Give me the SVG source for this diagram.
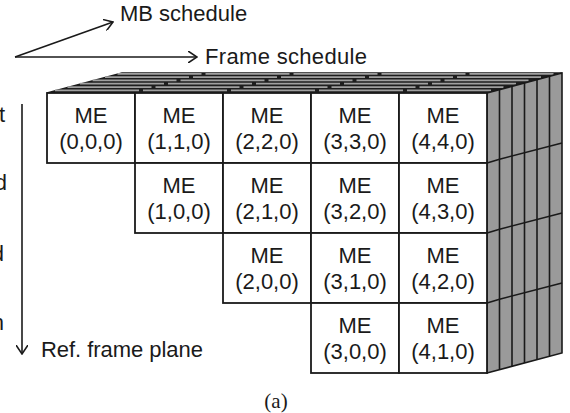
<svg xmlns="http://www.w3.org/2000/svg" width="570" height="413" viewBox="0 0 570 413">
<style>
.lbl{font-family:"Liberation Sans",Arial,sans-serif;font-size:22px;fill:#1a1a1a}
.cell rect{fill:#fff;stroke:#1a1a1a;stroke-width:1.8}
.cell text{font-family:"Liberation Sans",Arial,sans-serif;font-size:22px;fill:#1a1a1a;text-anchor:middle}
.ax{stroke:#1a1a1a;stroke-width:1.6;fill:none}
.vl{stroke:#1a1a1a;stroke-width:1.6}
.st{stroke:#a0a0a0;stroke-width:1.8;stroke-dasharray:84 4}
</style>
<defs>
<marker id="chev" viewBox="0 0 10 12" refX="9" refY="6" markerWidth="10" markerHeight="12" markerUnits="userSpaceOnUse" orient="auto">
<path d="M0,0 L9,6 L0,12" fill="none" stroke="#1a1a1a" stroke-width="1.6"/>
</marker>
</defs>
<rect width="570" height="413" fill="#fff"/>
<g class="lbl" text-anchor="end">
<text x="5" y="122">t</text>
<text x="7" y="190">d</text>
<text x="4" y="261">d</text>
<text x="4" y="330">n</text>
</g>
<g id="connectors">
<line class="ax" x1="15" y1="57" x2="113" y2="22" marker-end="url(#chev)"/>
<line class="ax" x1="15" y1="57" x2="197" y2="57" marker-end="url(#chev)"/>
<line class="ax" x1="22" y1="104" x2="22" y2="354" marker-end="url(#chev)"/>
</g>
<text class="lbl" x="120" y="21">MB schedule</text>
<text class="lbl" x="205" y="64" textLength="162">Frame schedule</text>
<text class="lbl" x="41" y="357" textLength="162">Ref. frame plane</text>
<g id="top-face">
<polygon points="47,93 487,93 562,73 122,73" fill="#1e1e1e" stroke="#1a1a1a" stroke-width="1.4"/>
<line class="st" x1="55" y1="90.4" x2="493" y2="90.4"/>
<line class="st" x1="67.5" y1="87.1" x2="505.5" y2="87.1"/>
<line class="st" x1="80" y1="83.7" x2="518" y2="83.7"/>
<line class="st" x1="92.5" y1="80.4" x2="530.5" y2="80.4"/>
<line class="st" x1="105" y1="77.1" x2="543" y2="77.1"/>
<line class="st" x1="117.5" y1="73.9" x2="555.5" y2="73.9"/>
</g>
<g id="right-face">
<polygon points="487,93 562,73 562,353 487,373" fill="#9a9a9a" stroke="#1a1a1a" stroke-width="1.6"/>
<line class="vl" x1="499.5" y1="89.7" x2="499.5" y2="369.7"/>
<line class="vl" x1="512" y1="86.3" x2="512" y2="366.3"/>
<line class="vl" x1="524.5" y1="83" x2="524.5" y2="363"/>
<line class="vl" x1="537" y1="79.7" x2="537" y2="359.7"/>
<line class="vl" x1="549.5" y1="76.3" x2="549.5" y2="356.3"/>
<polyline class="ax" points="487,163 499.5,159.2 562,143"/>
<polyline class="ax" points="487,233 499.5,229.2 562,213"/>
<polyline class="ax" points="487,303 499.5,299.2 562,283"/>
</g>
<g id="me-000" class="cell"><rect x="47" y="93" width="88" height="70"/><text x="91" y="123">ME</text><text x="91" y="149">(0,0,0)</text></g>
<g id="me-110" class="cell"><rect x="135" y="93" width="88" height="70"/><text x="179" y="123">ME</text><text x="179" y="149">(1,1,0)</text></g>
<g id="me-220" class="cell"><rect x="223" y="93" width="88" height="70"/><text x="267" y="123">ME</text><text x="267" y="149">(2,2,0)</text></g>
<g id="me-330" class="cell"><rect x="311" y="93" width="88" height="70"/><text x="355" y="123">ME</text><text x="355" y="149">(3,3,0)</text></g>
<g id="me-440" class="cell"><rect x="399" y="93" width="88" height="70"/><text x="443" y="123">ME</text><text x="443" y="149">(4,4,0)</text></g>
<g id="me-100" class="cell"><rect x="135" y="163" width="88" height="70"/><text x="179" y="193">ME</text><text x="179" y="219">(1,0,0)</text></g>
<g id="me-210" class="cell"><rect x="223" y="163" width="88" height="70"/><text x="267" y="193">ME</text><text x="267" y="219">(2,1,0)</text></g>
<g id="me-320" class="cell"><rect x="311" y="163" width="88" height="70"/><text x="355" y="193">ME</text><text x="355" y="219">(3,2,0)</text></g>
<g id="me-430" class="cell"><rect x="399" y="163" width="88" height="70"/><text x="443" y="193">ME</text><text x="443" y="219">(4,3,0)</text></g>
<g id="me-200" class="cell"><rect x="223" y="233" width="88" height="70"/><text x="267" y="263">ME</text><text x="267" y="289">(2,0,0)</text></g>
<g id="me-310" class="cell"><rect x="311" y="233" width="88" height="70"/><text x="355" y="263">ME</text><text x="355" y="289">(3,1,0)</text></g>
<g id="me-420" class="cell"><rect x="399" y="233" width="88" height="70"/><text x="443" y="263">ME</text><text x="443" y="289">(4,2,0)</text></g>
<g id="me-300" class="cell"><rect x="311" y="303" width="88" height="70"/><text x="355" y="333">ME</text><text x="355" y="359">(3,0,0)</text></g>
<g id="me-410" class="cell"><rect x="399" y="303" width="88" height="70"/><text x="443" y="333">ME</text><text x="443" y="359">(4,1,0)</text></g>
<text x="276" y="408" font-family="Liberation Serif,'Times New Roman',serif" font-size="21" fill="#1a1a1a" text-anchor="middle">(a)</text>
</svg>
